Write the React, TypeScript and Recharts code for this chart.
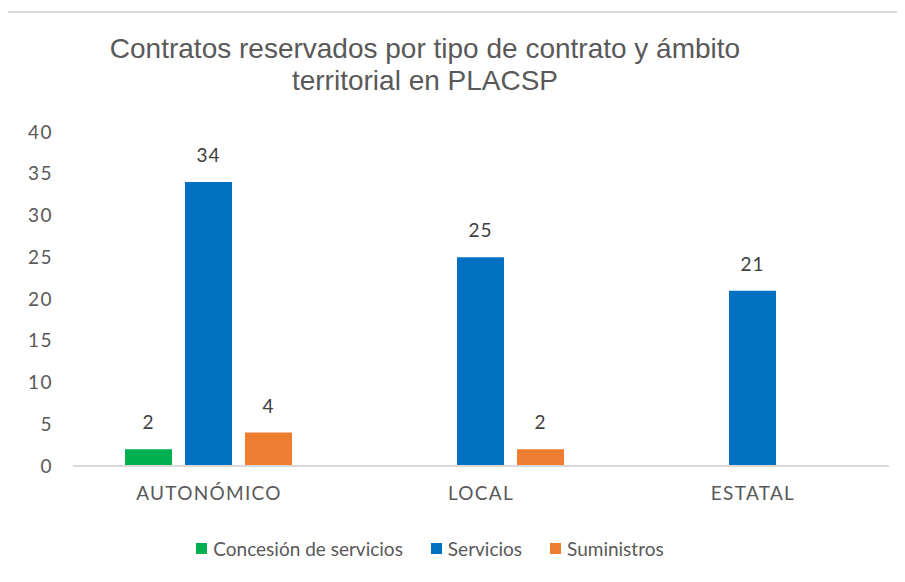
import React from "react";
import { BarChart, Bar, XAxis, YAxis, LabelList, Legend } from "recharts";

const categories = ["AUTONÓMICO", "LOCAL", "ESTATAL"];
const concesion: (number | null)[] = [2, null, null];
const servicios: (number | null)[] = [34, 25, 21];
const suministros: (number | null)[] = [4, 2, null];
const yTicks = [0, 5, 10, 15, 20, 25, 30, 35, 40];
const seriesNames = ["Concesión de servicios", "Servicios", "Suministros"];
const titleLines = ["Contratos reservados por tipo de contrato y ámbito", "territorial en PLACSP"];

const data = categories.map((c, i) => ({
  cat: c,
  concesion: concesion[i],
  servicios: servicios[i],
  suministros: suministros[i],
}));

const FONT = "Lato, 'Open Sans', sans-serif";

const renderLegend = (props: any) => {
  const { payload } = props;
  return (
    <div style={{ display: "flex", justifyContent: "center", fontFamily: FONT, fontSize: 19, color: "#595959" }}>
      {payload.map((p: any, i: number) => (
        <div key={i} style={{ display: "flex", alignItems: "center", marginRight: i < payload.length - 1 ? 28 : 0 }}>
          <span style={{ display: "inline-block", width: 11, height: 11, background: p.color, marginRight: 6 }} />
          <span>{p.value}</span>
        </div>
      ))}
    </div>
  );
};

export default function App() {
  return (
    <div style={{ position: "relative", width: 905, height: 582, margin: "-8px 0 0 -8px", overflow: "hidden", background: "#fff" }}>
      <div style={{ position: "absolute", left: 6, top: 11, width: 1000, height: 1000, border: "2px solid #d9d9d9" }} />
      <div
        style={{
          position: "absolute",
          left: 0,
          top: 33,
          width: 850,
          textAlign: "center",
          fontFamily: "'Liberation Sans', Arial, sans-serif",
          fontSize: 28,
          lineHeight: "32px",
          color: "#595959",
        }}
      >
        {titleLines.map((t, i) => (
          <div key={i}>{t}</div>
        ))}
      </div>
      <div style={{ position: "absolute", left: 0, top: 0 }}>
        <BarChart
          width={905}
          height={582}
          data={data}
          margin={{ top: 132, right: 16, bottom: 86, left: 13 }}
          barCategoryGap={52}
          barGap={13}
        >
          <XAxis
            dataKey="cat"
            axisLine={{ stroke: "#d9d9d9", strokeWidth: 2 }}
            tickLine={false}
            tickMargin={15}
            tick={{ fill: "#595959", fontSize: 19, fontFamily: FONT, letterSpacing: 1.3 }}
          />
          <YAxis
            domain={[0, 40]}
            ticks={yTicks}
            width={60}
            axisLine={false}
            tickLine={false}
            tickMargin={14}
            tick={{ fill: "#595959", fontSize: 19, fontFamily: FONT, letterSpacing: 1.5 }}
          />
          <Legend
            content={renderLegend}
            wrapperStyle={{ position: "absolute", top: 537, left: 0, width: 860, height: 0, overflow: "visible" }}
          />
          <Bar dataKey="concesion" name={seriesNames[0]} fill="#00B050" isAnimationActive={false}>
            <LabelList dataKey="concesion" position="top" offset={20} fill="#404040" fontSize={19} fontFamily={FONT} letterSpacing={1} />
          </Bar>
          <Bar dataKey="servicios" name={seriesNames[1]} fill="#0070C0" isAnimationActive={false}>
            <LabelList dataKey="servicios" position="top" offset={20} fill="#404040" fontSize={19} fontFamily={FONT} letterSpacing={1} />
          </Bar>
          <Bar dataKey="suministros" name={seriesNames[2]} fill="#ED7D31" isAnimationActive={false}>
            <LabelList dataKey="suministros" position="top" offset={20} fill="#404040" fontSize={19} fontFamily={FONT} letterSpacing={1} />
          </Bar>
        </BarChart>
      </div>
    </div>
  );
}
